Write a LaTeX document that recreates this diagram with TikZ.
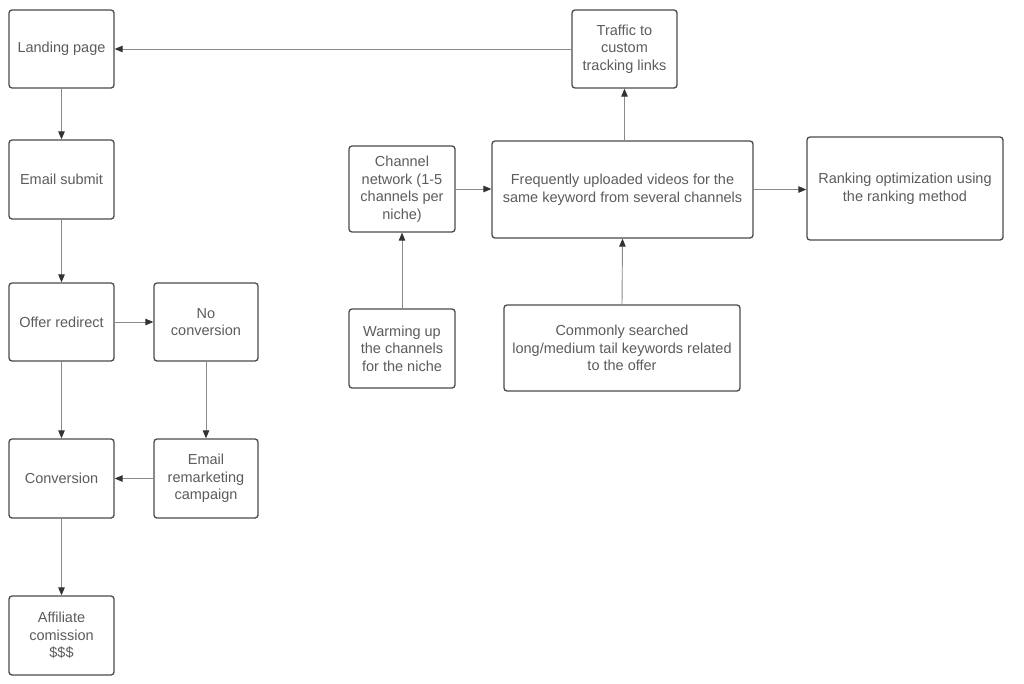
\documentclass[tikz,border=0pt]{standalone}
\usepackage{fontspec}
\setmainfont{Liberation Sans}
\usetikzlibrary{arrows.meta}
\definecolor{boxline}{HTML}{4A4A4A}
\definecolor{txt}{HTML}{5C5C5C}
\definecolor{conn}{HTML}{8A8A8A}
\definecolor{tipc}{HTML}{333333}
\tikzset{
  box/.style={draw=boxline, line width=1.3pt, rounded corners=3pt, align=center,
    text=txt, font=\fontsize{14.5}{17.5}\selectfont, inner sep=2pt},
  conn/.style={draw=conn, line width=0.9pt,
    -{Triangle[length=8pt,width=6.5pt,fill=tipc,color=tipc]}}
}
\begin{document}
\begin{tikzpicture}[x=1pt,y=-1pt]
\useasboundingbox (0,0) rectangle (1024,683);
\fill[white] (0,0) rectangle (1024,683);
% left column
\node[box, minimum width=105pt, minimum height=78pt] (land) at (61.5,49) {Landing page};
\node[box, minimum width=105pt, minimum height=79pt] (email) at (61.5,179.5) {Email submit};
\node[box, minimum width=105pt, minimum height=78pt] (offer) at (61.5,322) {Offer redirect};
\node[box, minimum width=104pt, minimum height=78pt] (noconv) at (206,322) {No\\conversion};
\node[box, minimum width=105pt, minimum height=79pt] (conv) at (61.5,478.5) {Conversion};
\node[box, minimum width=104pt, minimum height=79pt] (remark) at (206,478.5) {Email\\remarketing\\campaign};
\node[box, minimum width=105pt, minimum height=79pt] (aff) at (61.5,635.5) {Affiliate\\comission\\\$\$\$};
% right part
\node[box, minimum width=105pt, minimum height=78pt] (traffic) at (624.5,49) {Traffic to\\custom\\tracking links};
\node[box, minimum width=106pt, minimum height=86pt] (chan) at (402,189) {Channel\\network (1-5\\channels per\\niche)};
\node[box, minimum width=261pt, minimum height=97pt] (freq) at (622.5,189.5) {Frequently uploaded videos for the\\same keyword from several channels};
\node[box, minimum width=196pt, minimum height=103pt] (rank) at (905,188.5) {Ranking optimization using\\the ranking method};
\node[box, minimum width=106pt, minimum height=79pt] (warm) at (402,348.5) {Warming up\\the channels\\for the niche};
\node[box, minimum width=236pt, minimum height=86pt] (comm) at (622,348) {Commonly searched\\long/medium tail keywords related\\to the offer};
% connectors
\draw[conn] (traffic.west) -- (land.east);
\draw[conn] (land.south) -- (email.north);
\draw[conn] (email.south) -- (offer.north);
\draw[conn] (offer.east) -- (noconv.west);
\draw[conn] (offer.south) -- (conv.north);
\draw[conn] (noconv.south) -- (remark.north);
\draw[conn] (remark.west) -- (conv.east);
\draw[conn] (conv.south) -- (aff.north);
\draw[conn] (chan.east) -- (chan.east -| freq.west);
\draw[conn] (freq.east) -- (freq.east -| rank.west);
\draw[conn] (warm.north) -- (chan.south);
\draw[conn] (comm.north) -- (freq.south);
\draw[conn] (freq.north -| traffic.south) -- (traffic.south);
\end{tikzpicture}
\end{document}
